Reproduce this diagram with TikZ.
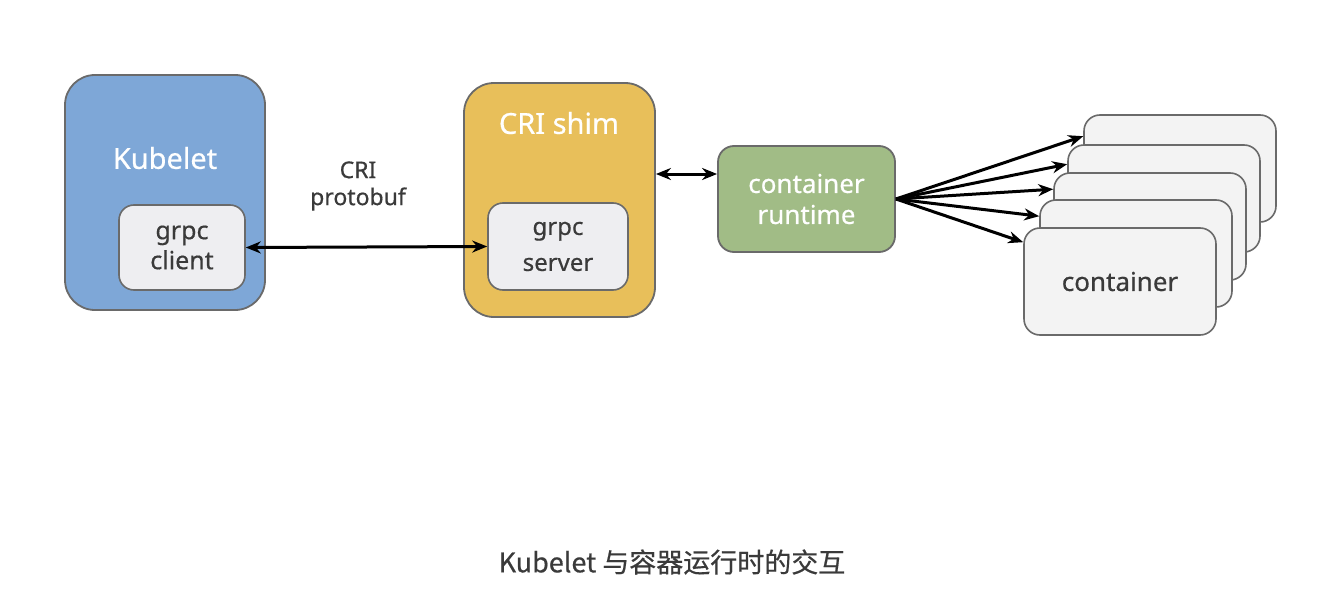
\documentclass[tikz,border=0pt]{standalone}
\usepackage{fontspec}
\setmainfont{Noto Sans}[FakeBold=0.5]
\newfontfamily\cjk{Noto Sans CJK SC}[FakeBold=0.5]
\usetikzlibrary{arrows.meta,calc}
\definecolor{kblue}{HTML}{7EA7D7}
\definecolor{kyellow}{HTML}{E8BF5A}
\definecolor{kgreen}{HTML}{A1BC86}
\definecolor{kinner}{HTML}{EEEEF1}
\definecolor{kcont}{HTML}{F3F3F3}
\definecolor{kborder}{HTML}{6A6A6A}
\definecolor{ktext}{HTML}{3A3A3A}
\tikzset{
  outerbox/.style={draw=kborder, line width=1.8pt, rounded corners=30pt, inner sep=0pt},
  innerbox/.style={draw=kborder, line width=1.6pt, rounded corners=15pt, fill=kinner, inner sep=0pt, align=center, text=ktext, font=\fontsize{25}{30}\selectfont},
  contbox/.style={draw=kborder, line width=1.6pt, rounded corners=16pt, fill=kcont, minimum width=192pt, minimum height=107pt, inner sep=0pt, text=ktext, font=\fontsize{26}{30}\selectfont},
  title/.style={text=white, font=\fontsize{29}{34}\selectfont, inner sep=0pt},
  arr/.style={line width=3pt, {Stealth[length=15pt,width=12pt]}-{Stealth[length=15pt,width=12pt]}},
  arrone/.style={line width=3pt, -{Stealth[length=15pt,width=12pt]}},
}
\begin{document}
\begin{tikzpicture}[x=1pt,y=-1pt]
\useasboundingbox[fill=white] (0,0) rectangle (1340,591);
% Kubelet
\node[outerbox, fill=kblue, minimum width=200pt, minimum height=235pt] (kubelet) at (165,192.5) {};
\node[title] (kubetitle) at (165,158) {Kubelet};
\node[innerbox, minimum width=126pt, minimum height=85pt] (client) at (182,247.5) {grpc\\client};
% CRI shim
\node[outerbox, fill=kyellow, minimum width=191pt, minimum height=234pt] (shim) at (559.5,200) {};
\node[title] (shimtitle) at (559,123) {CRI shim};
\node[innerbox, minimum width=140pt, minimum height=87pt, font=\fontsize{24}{36}\selectfont] (server) at (558,246.5) {grpc\\server};
% label
\node[align=center, text=ktext, font=\fontsize{23}{27}\selectfont, inner sep=0pt] (proto) at (358,186) {CRI\\protobuf};
% runtime
\node[draw=kborder, line width=1.8pt, rounded corners=16pt, fill=kgreen, minimum width=177pt, minimum height=106pt, inner sep=0pt, align=center, text=white, font=\fontsize{26}{31}\selectfont] (runtime) at (806.5,199) {container\\runtime};
% containers
\node[contbox] (c5) at (1180,168.5) {};
\node[contbox] (c4) at (1164,198.5) {};
\node[contbox] (c3) at (1150,226.5) {};
\node[contbox] (c2) at (1136,253.5) {};
\node[contbox] (c1) at (1120,281.5) {container};
% arrows
\draw[arr] (client.east) -- (server.west);
\coordinate (r1) at ([yshift=25pt]runtime.west);
\draw[arr] (shim.east |- r1) -- (r1);
\foreach \c/\d in {c5/22,c4/20,c3/17,c2/17,c1/15}{
  \coordinate (t\c) at ($(\c.north west)+(0,\d)$);
  \draw[arrone] (runtime.east) -- (t\c);
}
% caption
\node[text=ktext, font=\cjk\fontsize{27}{32}\selectfont, inner sep=0pt] (caption) at (672,562) {Kubelet 与容器运行时的交互};
\end{tikzpicture}
\end{document}
